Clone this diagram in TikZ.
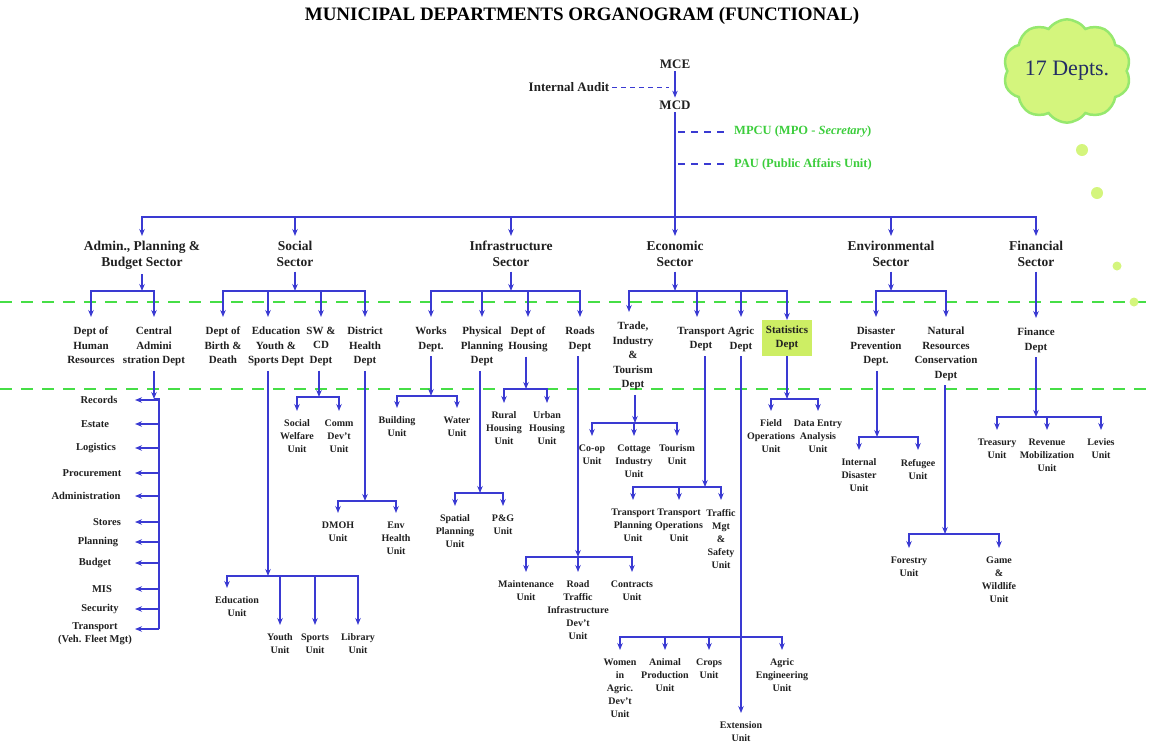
\documentclass[tikz,border=0pt]{standalone}
\usepackage{fontspec}
\setmainfont{Liberation Serif}
\usetikzlibrary{arrows.meta,shapes.symbols}

\definecolor{linkblue}{RGB}{58,58,210}
\definecolor{bandgreen}{RGB}{70,222,70}
\definecolor{txtgreen}{RGB}{60,205,60}
\definecolor{cloudfill}{RGB}{212,245,125}
\definecolor{cloudedge}{RGB}{150,232,110}
\definecolor{statfill}{RGB}{205,238,100}
\definecolor{navyink}{RGB}{35,45,100}
\definecolor{inkgray}{RGB}{32,32,32}

\begin{document}
\begin{tikzpicture}[x=1pt, y=-1pt,
        conn/.style={draw=linkblue, line width=1.3pt},
        arr/.style={conn, -{Stealth[length=7pt, width=5.5pt]}},
        todept/.style={arr, shorten >=5pt},
        band/.style={draw=bandgreen, line width=2pt, dash pattern=on 12pt off 9pt},
        auditdash/.style={draw=linkblue, line width=1pt, dash pattern=on 5pt off 4pt},
        staffdash/.style={draw=linkblue, line width=1.5pt, dash pattern=on 7pt off 6pt},
        title/.style={font=\fontsize{19}{21}\selectfont\bfseries, text=black},
        top/.style={font=\fontsize{13}{15}\selectfont\bfseries, text=inkgray, inner sep=1pt, outer sep=2pt},
        staff/.style={font=\fontsize{12.5}{15}\selectfont\bfseries, text=txtgreen, inner sep=1pt, anchor=west},
        sector/.style={font=\fontsize{13.5}{16}\selectfont\bfseries, text=inkgray, align=center, inner sep=2pt, outer sep=3pt, anchor=north},
        dept/.style={font=\fontsize{11}{14.5}\selectfont\bfseries, text=inkgray, align=center, inner sep=2pt, outer sep=3pt, anchor=north},
        unit/.style={font=\fontsize{10}{13}\selectfont\bfseries, text=inkgray, align=center, inner sep=2pt, outer sep=7pt, anchor=north},
        item/.style={font=\fontsize{10.5}{13}\selectfont\bfseries, text=inkgray, align=center, inner sep=1pt},
        bubble/.style={shape=cloud, cloud puffs=10, cloud puff arc=110, aspect=1.35, fill=cloudfill, draw=cloudedge, line width=2.5pt, minimum width=120pt, minimum height=90pt, inner sep=0pt, font=\fontsize{22}{24}\selectfont, text=navyink}
    ]
        \useasboundingbox (0,0) rectangle (1154,748);

        % Level separators
        \draw[band] (0,302) -- (1154,302);
        \draw[band] (0,389) -- (1154,389);

        % Title and cloud
        \node[title] (title) at (582,16) {MUNICIPAL DEPARTMENTS ORGANOGRAM (FUNCTIONAL)};
        \node[bubble] (depts) at (1067,71) {17 Depts.};
        \fill[cloudfill] (1082,150) circle (6pt);
        \fill[cloudfill] (1097,193) circle (6pt);
        \fill[cloudfill] (1117,266) circle (4.5pt);
        \fill[cloudfill] (1134,302) circle (4.5pt);

        % Top management
        \node[top] (mce) at (675,64) {MCE};
        \node[top] (mcd) at (675,105) {MCD};
        \node[top] (audit) at (569,87) {Internal Audit};
        \node[staff] (mpcu) at (733,132) {MPCU (MPO - \textit{Secretary})};
        \node[staff] (pau) at (733,164) {PAU (Public Affairs Unit)};
        \coordinate (topbus) at (675,217);

        \draw[arr] (mce) -- (mcd);
        \draw[auditdash, shorten >=6pt] (audit) -- (audit -| mce);
        \draw[conn] (mcd) -- (topbus);
        \draw[staffdash, shorten <=3pt, shorten >=5pt] (mcd |- mpcu) -- (mpcu);
        \draw[staffdash, shorten <=3pt, shorten >=5pt] (mcd |- pau) -- (pau);

        % Sectors
        \node[sector] (adminsec) at (142,236) {Admin., Planning \&\\Budget Sector};
        \node[sector] (socsec) at (295,236) {Social\\Sector};
        \node[sector] (infsec) at (511,236) {Infrastructure\\Sector};
        \node[sector] (ecosec) at (675,236) {Economic\\Sector};
        \node[sector] (envsec) at (891,236) {Environmental\\Sector};
        \node[sector] (finsec) at (1036,236) {Financial\\Sector};

        \draw[arr] (topbus) -| (adminsec);
        \draw[arr] (topbus) -| (socsec);
        \draw[arr] (topbus) -| (infsec);
        \draw[arr] (topbus) -- (ecosec);
        \draw[arr] (topbus) -| (envsec);
        \draw[arr] (topbus) -| (finsec);

        % Departments
        \node[dept] (hr) at (91,322) {Dept of\\Human\\Resources};
        \node[dept] (cad) at (154,322) {Central\\Admini\\stration Dept};
        \node[dept] (birth) at (223,322) {Dept of\\Birth \&\\Death};
        \node[dept] (eys) at (276,322) {Education\\Youth \&\\Sports Dept};
        \node[dept] (swcd) at (321,322) {SW \&\\CD\\Dept};
        \node[dept] (dhd) at (365,322) {District\\Health\\Dept};
        \node[dept] (works) at (431,322) {Works\\Dept.};
        \node[dept] (ppd) at (482,322) {Physical\\Planning\\Dept};
        \node[dept] (housing) at (528,322) {Dept of\\Housing};
        \node[dept] (roads) at (580,322) {Roads\\Dept};
        \node[dept] (tit) at (633,317) {Trade,\\Industry\\\&\\Tourism\\Dept};
        \node[dept] (transp) at (701,322) {Transport\\Dept};
        \node[dept] (agric) at (741,322) {Agric\\Dept};
        \node[dept, fill=statfill, outer sep=0pt, minimum width=50pt, minimum height=36pt] (stats) at (787,320) {Statistics\\Dept};
        \node[dept] (dpd) at (876,322) {Disaster\\Prevention\\Dept.};
        \node[dept] (nrcd) at (946,322) {Natural\\Resources\\Conservation\\Dept};
        \node[dept] (findept) at (1036,323) {Finance\\Dept};

        \coordinate (adminbus) at (142,291);
        \coordinate (socbus) at (295,291);
        \coordinate (infbus) at (511,291);
        \coordinate (ecobus) at (675,291);
        \coordinate (envbus) at (891,291);

        \draw[arr] (adminsec) -- (adminbus);
        \draw[arr] (socsec) -- (socbus);
        \draw[arr] (infsec) -- (infbus);
        \draw[arr] (ecosec) -- (ecobus);
        \draw[arr] (envsec) -- (envbus);
        \draw[todept] (finsec) -- (findept);

        \draw[todept] (adminbus) -| (hr);
        \draw[todept] (adminbus) -| (cad);
        \draw[todept] (socbus) -| (birth);
        \draw[todept] (socbus) -| ([xshift=-8pt]eys.north);
        \draw[todept] (socbus) -| (swcd);
        \draw[todept] (socbus) -| (dhd);
        \draw[todept] (infbus) -| (works);
        \draw[todept] (infbus) -| (ppd);
        \draw[todept] (infbus) -| (housing);
        \draw[todept] (infbus) -| (roads);
        \draw[todept] (ecobus) -| ([xshift=-4pt]tit.north);
        \draw[todept] (ecobus) -| ([xshift=-4pt]transp.north);
        \draw[todept] (ecobus) -| (agric);
        \draw[arr] (ecobus) -| (stats);
        \draw[todept] (envbus) -| (dpd);
        \draw[todept] (envbus) -| (nrcd);

        % Central Administration list
        \coordinate (cadtop) at (154,399);
        \coordinate (cadend) at (159,629);
        \coordinate (listtip) at (135,399);
        \draw[arr] (cad) -- (cadtop);
        \draw[conn] (cadtop) -| (cadend);

        \node[item] (rec) at (99,400) {Records};
        \node[item] (est) at (95,424) {Estate};
        \node[item] (logi) at (96,448) {Logistics};
        \node[item] (proc) at (92,473) {Procurement};
        \node[item] (adm) at (86,496) {Administration};
        \node[item] (sto) at (107,522) {Stores};
        \node[item] (pla) at (98,542) {Planning};
        \node[item] (bud) at (95,563) {Budget};
        \node[item] (mis) at (102,589) {MIS};
        \node[item] (secu) at (100,609) {Security};
        \node[item] (trn) at (95,634) {Transport\\(Veh. Fleet Mgt)};

        \foreach \n in {rec,est,logi,proc,adm,sto,pla,bud,mis,secu}
            \draw[arr] (cadend |- \n) -- (listtip |- \n);
        \draw[arr] (cadend) -- (listtip |- cadend);

        % Social sector units
        \coordinate (eysbus) at (268,576);
        \node[unit] (eduu) at (237,588) {Education\\Unit};
        \node[unit] (youth) at (280,625) {Youth\\Unit};
        \node[unit] (sports) at (315,625) {Sports\\Unit};
        \node[unit] (library) at (358,625) {Library\\Unit};
        \draw[arr] ([xshift=-8pt]eys.south) -- (eysbus);
        \draw[arr] (eysbus) -| ([xshift=-10pt]eduu.north);
        \draw[arr] (eysbus) -| (youth);
        \draw[arr] (eysbus) -| (sports);
        \draw[arr] (eysbus) -| (library);

        \coordinate (swcdbus) at (319,397);
        \node[unit] (swu) at (297,411) {Social\\Welfare\\Unit};
        \node[unit] (cdu) at (339,411) {Comm\\Dev't\\Unit};
        \draw[arr] ([xshift=-2pt]swcd.south) -- (swcdbus);
        \draw[arr] (swcdbus) -| (swu);
        \draw[arr] (swcdbus) -| (cdu);

        \coordinate (dhdbus) at (365,501);
        \node[unit] (dmoh) at (338,513) {DMOH\\Unit};
        \node[unit] (envh) at (396,513) {Env\\Health\\Unit};
        \draw[arr] (dhd) -- (dhdbus);
        \draw[arr] (dhdbus) -| (dmoh);
        \draw[arr] (dhdbus) -| (envh);

        % Infrastructure sector units
        \coordinate (worksbus) at (431,396);
        \node[unit] (bldg) at (397,408) {Building\\Unit};
        \node[unit] (water) at (457,408) {Water\\Unit};
        \draw[arr] (works) -- (worksbus);
        \draw[arr] (worksbus) -| (bldg);
        \draw[arr] (worksbus) -| (water);

        \coordinate (ppdbus) at (480,493);
        \node[unit] (spat) at (455,506) {Spatial\\Planning\\Unit};
        \node[unit] (pg) at (503,506) {P\&G\\Unit};
        \draw[arr] ([xshift=-2pt]ppd.south) -- (ppdbus);
        \draw[arr] (ppdbus) -| (spat);
        \draw[arr] (ppdbus) -| (pg);

        \coordinate (housbus) at (526,389);
        \node[unit] (rural) at (504,403) {Rural\\Housing\\Unit};
        \node[unit] (urban) at (547,403) {Urban\\Housing\\Unit};
        \draw[arr] ([xshift=-2pt]housing.south) -- (housbus);
        \draw[arr] (housbus) -| (rural);
        \draw[arr] (housbus) -| (urban);

        \coordinate (roadbus) at (578,557);
        \node[unit] (maint) at (526,572) {Maintenance\\Unit};
        \node[unit] (rtid) at (578,572) {Road\\Traffic\\Infrastructure\\Dev't\\Unit};
        \node[unit] (contr) at (632,572) {Contracts\\Unit};
        \draw[arr] ([xshift=-2pt]roads.south) -- (roadbus);
        \draw[arr] (roadbus) -| (maint);
        \draw[arr] (roadbus) -- (rtid);
        \draw[arr] (roadbus) -| (contr);

        % Economic sector units
        \coordinate (titbus) at (635,423);
        \node[unit] (coop) at (592,436) {Co-op\\Unit};
        \node[unit] (cott) at (634,436) {Cottage\\Industry\\Unit};
        \node[unit] (tour) at (677,436) {Tourism\\Unit};
        \draw[arr] ([xshift=2pt]tit.south) -- (titbus);
        \draw[arr] (titbus) -| (coop);
        \draw[arr] (titbus) -| (cott);
        \draw[arr] (titbus) -| (tour);

        \coordinate (trbus) at (705,487);
        \node[unit] (tpu) at (633,500) {Transport\\Planning\\Unit};
        \node[unit] (tou) at (679,500) {Transport\\Operations\\Unit};
        \node[unit] (tms) at (721,500) {Traffic\\Mgt\\\&\\Safety\\Unit};
        \draw[arr] ([xshift=4pt]transp.south) -- (trbus);
        \draw[arr] (trbus) -| (tpu);
        \draw[arr] (trbus) -| (tou);
        \draw[arr] (trbus) -| (tms);

        \coordinate (agbus) at (741,637);
        \node[unit] (women) at (620,650) {Women\\in\\Agric.\\Dev't\\Unit};
        \node[unit] (animal) at (665,650) {Animal\\Production\\Unit};
        \node[unit] (crops) at (709,650) {Crops\\Unit};
        \node[unit] (aeng) at (782,650) {Agric\\Engineering\\Unit};
        \node[unit] (ext) at (741,713) {Extension\\Unit};
        \draw[arr] (agric) -- (ext);
        \draw[arr] (agbus) -| (women);
        \draw[arr] (agbus) -| (animal);
        \draw[arr] (agbus) -| (crops);
        \draw[arr] (agbus) -| (aeng);

        \coordinate (statbus) at (787,399);
        \node[unit] (field) at (771,411) {Field\\Operations\\Unit};
        \node[unit] (dea) at (818,411) {Data Entry\\Analysis\\Unit};
        \draw[arr] (stats) -- (statbus);
        \draw[arr] (statbus) -| (field);
        \draw[arr] (statbus) -| (dea);

        % Environmental sector units
        \coordinate (dpdbus) at (877,437);
        \node[unit] (intd) at (859,450) {Internal\\Disaster\\Unit};
        \node[unit] (refu) at (918,450) {Refugee\\Unit};
        \draw[arr] ([xshift=1pt]dpd.south) -- (dpdbus);
        \draw[arr] (dpdbus) -| (intd);
        \draw[arr] (dpdbus) -| (refu);

        \coordinate (nrcdbus) at (945,534);
        \node[unit] (forest) at (909,548) {Forestry\\Unit};
        \node[unit] (game) at (999,548) {Game\\\&\\Wildlife\\Unit};
        \draw[arr] ([xshift=-1pt]nrcd.south) -- (nrcdbus);
        \draw[arr] (nrcdbus) -| (forest);
        \draw[arr] (nrcdbus) -| (game);

        % Financial sector units
        \coordinate (finbus) at (1036,417);
        \node[unit] (treas) at (997,430) {Treasury\\Unit};
        \node[unit] (rev) at (1047,430) {Revenue\\Mobilization\\Unit};
        \node[unit] (lev) at (1101,430) {Levies\\Unit};
        \draw[arr] (findept) -- (finbus);
        \draw[arr] (finbus) -| (treas);
        \draw[arr] (finbus) -| (rev);
        \draw[arr] (finbus) -| (lev);

    \end{tikzpicture}
\end{document}
